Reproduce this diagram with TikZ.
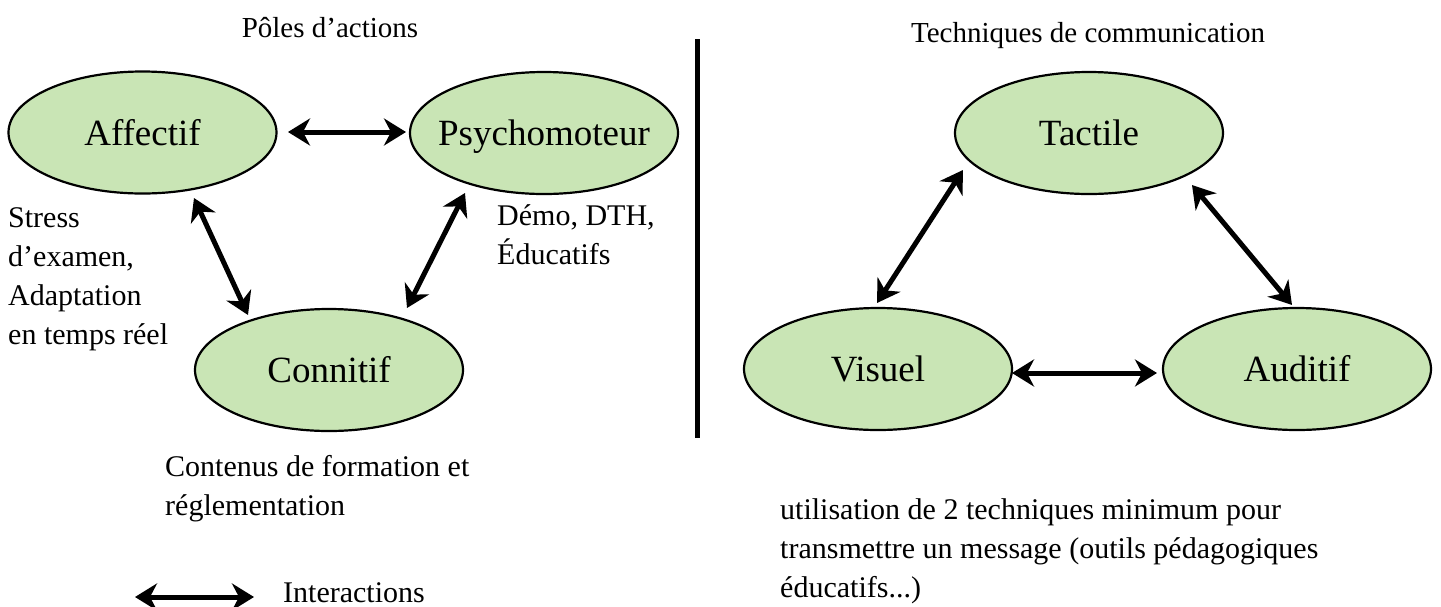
\documentclass[tikz,border=0pt]{standalone}
\usepackage{fontspec}
\setmainfont{Liberation Serif}
\usetikzlibrary{shapes.geometric,arrows.meta,calc}
\definecolor{polegreen}{HTML}{C9E5B5}
\tikzset{
  pole/.style={ellipse, draw=black, line width=2.2pt, fill=polegreen,
    minimum width=268pt, minimum height=122pt, inner sep=0pt,
    text height=25pt, text depth=0pt, font=\fontsize{37}{44}\selectfont},
  tip/.tip={Stealth[length=22pt,width=27pt,inset=7pt]},
  biarrow/.style={line width=5pt, tip-tip},
  note/.style={inner sep=0pt, align=left, font=\fontsize{30}{39}\selectfont},
  heading/.style={inner sep=0pt, font=\fontsize{29}{34}\selectfont},
}
\begin{document}
\begin{tikzpicture}[x=1pt,y=-1pt]
\useasboundingbox (0,0) rectangle (1441,606);

% --- left panel: poles d'actions ---
\node[heading, anchor=base] (t1) at (330,37) {Pôles d’actions};
\node[pole] (aff) at (142.5,132.5) {Affectif};
% zero-width box keeps the long label from widening the ellipse
\node[pole] (psy) at (544,133) {\makebox[0pt]{Psychomoteur}};
\node[pole] (con) at (329,370) {Connitif};

\draw[biarrow] ($(aff)+(145.5,-0.5)$) -- ($(psy)+(-138,-1)$);
\draw[biarrow] ($(aff)+(51.5,65.5)$) -- ($(con)+(-81,-55)$);
\draw[biarrow] ($(psy)+(-79,60)$) -- ($(con)+(78,-62)$);

% the base anchor of a multi-line note is the baseline of its last line
\node[note, anchor=base west] (stress) at (8,344)
  {Stress\\d’examen,\\Adaptation\\en temps réel};
\node[note, anchor=base west] (demo) at (497,264) {Démo, DTH,\\Éducatifs};
\node[note, anchor=base west] (contenus) at (165,515)
  {Contenus de formation et\\réglementation};

% legend
\coordinate (lg1) at (135,597);
\coordinate (lg2) at (254,597);
\draw[biarrow] (lg1) -- (lg2);
\node[note, anchor=base west] (legend) at (283,602) {Interactions};

% separator
\draw[line width=5pt] (697,39) -- (697,438);

% --- right panel: techniques de communication ---
\node[heading, anchor=base] (t2) at (1088,42) {Techniques de communication};
\node[pole] (tac) at (1089,133) {Tactile};
\node[pole] (vis) at (878,369) {Visuel};
\node[pole] (aud) at (1297,369) {Auditif};

\draw[biarrow] ($(tac)+(-126,37)$) -- ($(vis)+(-1,-66)$);
\draw[biarrow] ($(tac)+(103,52)$) -- ($(aud)+(-5,-64)$);
\draw[biarrow] ($(vis)+(134,4)$) -- ($(aud)+(-140,4)$);

\node[note, anchor=base west] (usage) at (780,597)
  {utilisation de 2 techniques minimum pour\\transmettre un message (outils pédagogiques\\éducatifs...)};
\end{tikzpicture}
\end{document}
